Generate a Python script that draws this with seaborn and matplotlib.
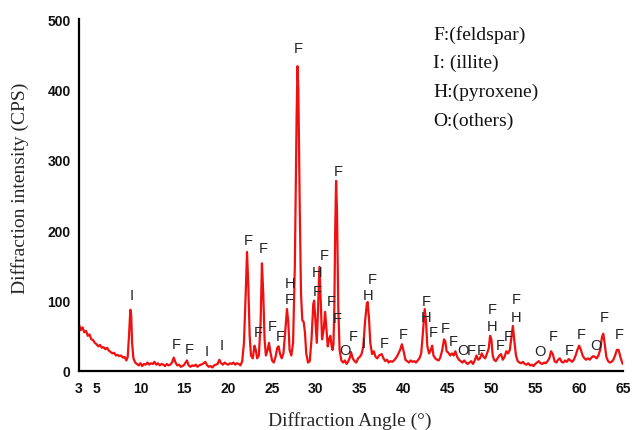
import matplotlib
matplotlib.use("Agg")
import matplotlib.pyplot as plt
from matplotlib.ticker import MultipleLocator, FixedLocator
import seaborn as sns
import pandas as pd

# XRD scan: diffraction angle 2θ (°) and intensity (CPS)
angle = [
    3.0, 3.2, 3.4, 3.6, 3.8, 4.0, 4.2, 4.4, 4.6, 4.8, 5.0, 5.2, 5.4, 5.6, 5.8,
    6.0, 6.2, 6.4, 6.6, 6.8, 7.0, 7.2, 7.4, 7.6, 7.8, 8.0, 8.2, 8.4, 8.55, 8.7,
    8.85, 8.95, 9.05, 9.2, 9.4, 9.6, 9.8, 10.0, 10.2, 10.4, 10.6, 10.8, 11.0,
    11.2, 11.4, 11.6, 11.8, 12.0, 12.2, 12.4, 12.6, 12.8, 13.0, 13.2, 13.4,
    13.6, 13.8, 14.0, 14.2, 14.4, 14.6, 14.8, 15.0, 15.3, 15.5, 15.7, 15.9,
    16.1, 16.3, 16.5, 16.7, 16.9, 17.1, 17.4, 17.6, 17.8, 18.0, 18.2, 18.4,
    18.6, 18.8, 19.0, 19.2, 19.4, 19.6, 19.8, 20.0, 20.2, 20.4, 20.6, 20.8,
    21.0, 21.2, 21.4, 21.6, 21.8, 22.0, 22.15, 22.3, 22.45, 22.6, 22.8, 23.0,
    23.15, 23.3, 23.5, 23.7, 23.85, 24.0, 24.15, 24.3, 24.5, 24.65, 24.8, 25.0,
    25.2, 25.4, 25.6, 25.75, 25.9, 26.1, 26.3, 26.5, 26.7, 26.85, 27.0, 27.2,
    27.4, 27.6, 27.8, 27.9, 28.0, 28.15, 28.3, 28.45, 28.6, 28.75, 28.9, 29.1,
    29.3, 29.5, 29.7, 29.8, 29.95, 30.1, 30.25, 30.4, 30.55, 30.7, 30.9, 31.05,
    31.2, 31.35, 31.5, 31.65, 31.8, 31.9, 32.0, 32.1, 32.2, 32.3, 32.4, 32.55,
    32.7, 32.9, 33.1, 33.3, 33.5, 33.7, 33.9, 34.0, 34.2, 34.4, 34.6, 34.8,
    35.0, 35.2, 35.4, 35.6, 35.8, 35.9, 36.05, 36.2, 36.4, 36.6, 36.8, 37.0,
    37.2, 37.5, 37.7, 37.9, 38.1, 38.3, 38.5, 38.7, 38.9, 39.1, 39.3, 39.6,
    39.8, 40.0, 40.2, 40.4, 40.6, 40.8, 41.0, 41.2, 41.4, 41.6, 41.8, 42.0,
    42.2, 42.4, 42.55, 42.7, 42.9, 43.1, 43.25, 43.4, 43.6, 43.8, 44.0, 44.2,
    44.4, 44.6, 44.75, 44.9, 45.1, 45.3, 45.5, 45.7, 45.9, 46.1, 46.3, 46.5,
    46.7, 46.9, 47.1, 47.3, 47.5, 47.7, 47.9, 48.1, 48.3, 48.5, 48.7, 48.9,
    49.1, 49.3, 49.5, 49.7, 49.85, 50.0, 50.15, 50.3, 50.5, 50.7, 50.9, 51.1,
    51.3, 51.5, 51.7, 51.9, 52.1, 52.3, 52.45, 52.6, 52.8, 53.0, 53.2, 53.4,
    53.6, 53.8, 54.0, 54.2, 54.4, 54.6, 54.8, 55.0, 55.2, 55.4, 55.6, 55.8,
    56.0, 56.2, 56.4, 56.6, 56.8, 57.0, 57.2, 57.4, 57.6, 57.8, 58.0, 58.2,
    58.4, 58.6, 58.8, 59.0, 59.2, 59.4, 59.6, 59.8, 60.0, 60.2, 60.4, 60.6,
    60.8, 61.0, 61.2, 61.4, 61.6, 61.8, 62.0, 62.2, 62.4, 62.6, 62.75, 62.9,
    63.1, 63.3, 63.5, 63.7, 63.9, 64.1, 64.3, 64.5, 64.7, 64.9, 65.0,
]
intensity = [
    66, 58, 62, 55, 57, 50, 52, 45, 44, 40, 38, 35, 37, 33, 34,
    31, 33, 29, 27, 25, 26, 22, 23, 21, 22, 19, 20, 15, 20, 50,
    87, 80, 40, 18, 12, 10, 8, 11, 7, 10, 9, 12, 9,
    11, 10, 13, 9, 11, 8, 10, 9, 7, 10, 8, 9,
    12, 19, 12, 8, 9, 6, 7, 9, 15, 8, 6, 8,
    7, 9, 6, 8, 9, 10, 13, 8, 6, 7, 5, 8,
    9, 10, 16, 11, 9, 12, 10, 9, 11, 10, 12, 9,
    11, 10, 8, 14, 40, 110, 169, 120, 50, 22, 18, 36,
    30, 18, 22, 70, 153, 110, 45, 22, 30, 40, 28, 15,
    12, 20, 33, 35, 25, 18, 25, 55, 88, 70, 30, 22,
    40, 150, 360, 433, 400, 240, 110, 72, 70, 55, 25, 12,
    14, 45, 95, 100, 70, 40, 90, 148, 100, 45, 60, 84,
    60, 35, 45, 50, 35, 30, 38, 90, 200, 270, 230, 90,
    30, 15, 12, 15, 10, 14, 20, 27, 18, 14, 12, 18,
    20, 24, 35, 70, 95, 98, 75, 40, 24, 28, 20, 18,
    22, 24, 18, 14, 16, 12, 14, 13, 15, 18, 22, 30,
    38, 28, 16, 14, 12, 15, 13, 14, 12, 15, 18, 25,
    55, 88, 70, 35, 25, 30, 36, 22, 18, 16, 15, 20,
    30, 45, 42, 28, 26, 22, 25, 22, 28, 20, 16, 14,
    12, 15, 12, 10, 12, 14, 10, 15, 22, 16, 18, 25,
    20, 18, 25, 32, 50, 45, 22, 16, 14, 18, 22, 24,
    16, 20, 28, 25, 30, 50, 64, 45, 22, 14, 12, 11,
    13, 10, 9, 11, 8, 9, 7, 10, 12, 14, 11, 10,
    12, 11, 14, 18, 28, 24, 14, 12, 16, 18, 13, 12,
    15, 13, 17, 15, 13, 16, 22, 30, 36, 30, 22, 18,
    16, 18, 16, 19, 21, 20, 18, 22, 30, 48, 53, 40,
    20, 14, 12, 13, 16, 22, 30, 30, 20, 12, 10,
]

# Phase markers: letter, angle (°), height (CPS) of the letter
phase_letters = [
    "I", "F", "F", "I", "I",
    "F", "F", "F", "F", "F", "H", "F", "F",
    "H", "F", "F", "F", "F", "F",
    "O", "F", "I", "H", "F", "F", "F",
    "F", "H", "F", "F", "F", "O", "F", "F",
    "F", "H", "F", "F", "F", "H",
    "O", "F", "F", "F", "O", "F", "F",
]
phase_x = [
    8.95, 14.1, 15.6, 17.6, 19.3,
    22.3, 24.0, 23.4, 25.0, 25.9, 27.0, 27.0, 28.0,
    30.1, 30.2, 30.9, 31.7, 32.4, 32.5,
    33.3, 34.2, 35.4, 35.9, 36.4, 37.8, 40.0,
    42.6, 42.6, 43.4, 44.7, 45.6, 46.75, 47.75, 48.8,
    50.1, 50.1, 51.0, 51.9, 52.8, 52.8,
    55.5, 57.1, 58.9, 60.2, 61.9, 62.9, 64.6,
]
phase_y = [
    108, 38, 31, 28, 37,
    186, 175, 55, 64, 50, 125, 102, 459,
    141, 114, 165, 99, 75, 284,
    30, 50, 40, 108, 131, 40, 53,
    99, 77, 55, 61, 43, 30, 30, 30,
    88, 64, 37, 50, 102, 77,
    28, 50, 30, 53, 37, 77, 53,
]

legend_lines = ["F:(feldspar)", "I: (illite)", "H:(pyroxene)", "O:(others)"]

x_ticks = [3, 5, 10, 15, 20, 25, 30, 35, 40, 45, 50, 55, 60, 65]
y_ticks = [0, 100, 200, 300, 400, 500]

sns.set_style("white")
plt.rcParams["font.family"] = ["Liberation Sans", "DejaVu Sans"]

W, H = 640, 431
fig = plt.figure(figsize=(W / 100, H / 100), dpi=100)
x0, x1, ytop, ybot = 79, 623, 20, 372
ax = fig.add_axes([x0 / W, 1 - ybot / H, (x1 - x0) / W, (ybot - ytop) / H])

df = pd.DataFrame({"angle": angle, "intensity": intensity})
sns.lineplot(data=df, x="angle", y="intensity", ax=ax, color="#f01010",
             linewidth=1.6, sort=False, estimator=None)

ax.set_xlim(3, 65)
ax.set_ylim(0, 500)

for s in ("top", "right"):
    ax.spines[s].set_visible(False)
for s in ("left", "bottom"):
    ax.spines[s].set_linewidth(1.6)
    ax.spines[s].set_color("black")

ax.xaxis.set_major_locator(FixedLocator(x_ticks))
ax.xaxis.set_minor_locator(FixedLocator([7.5 + 5 * i for i in range(12)]))
ax.yaxis.set_major_locator(FixedLocator(y_ticks))
ax.yaxis.set_minor_locator(MultipleLocator(50))
ax.tick_params(axis="both", which="major", direction="in", length=4,
               width=1.3, color="black")
ax.tick_params(axis="both", which="minor", direction="in", length=3,
               width=1.1, color="black")
ax.tick_params(axis="x", which="major", pad=7)
ax.tick_params(axis="y", which="major", pad=6)
ax.set_xticklabels([str(t) for t in x_ticks])
ax.set_yticklabels([str(t) for t in y_ticks])
for lab in ax.get_xticklabels() + ax.get_yticklabels():
    lab.set_fontweight("bold")
    lab.set_fontsize(10)
    lab.set_color("#111111")

serif = ["Liberation Serif", "DejaVu Serif"]
ax.set_xlabel("Diffraction Angle (°)", family=serif, fontsize=14)
ax.set_ylabel("Diffraction intensity (CPS)", family=serif, fontsize=14)
ax.xaxis.set_label_coords((350 - x0) / (x1 - x0), -(412 - ybot) / (ybot - ytop))
ax.yaxis.label.set_va("center")
ax.yaxis.set_label_coords(-(x0 - 20) / (x1 - x0), 1 - (188 - ytop) / (ybot - ytop))

for letter, px, py in zip(phase_letters, phase_x, phase_y):
    ax.text(px, py, letter, ha="center", va="center", fontsize=10.5,
            color="#222222")

for i, line in enumerate(legend_lines):
    fig.text(433 / W, 1 - (35 + 28.7 * i) / H, line, family=serif,
             fontsize=14, ha="left", va="center", color="#111111")

fig.savefig("out.png", dpi=100)
